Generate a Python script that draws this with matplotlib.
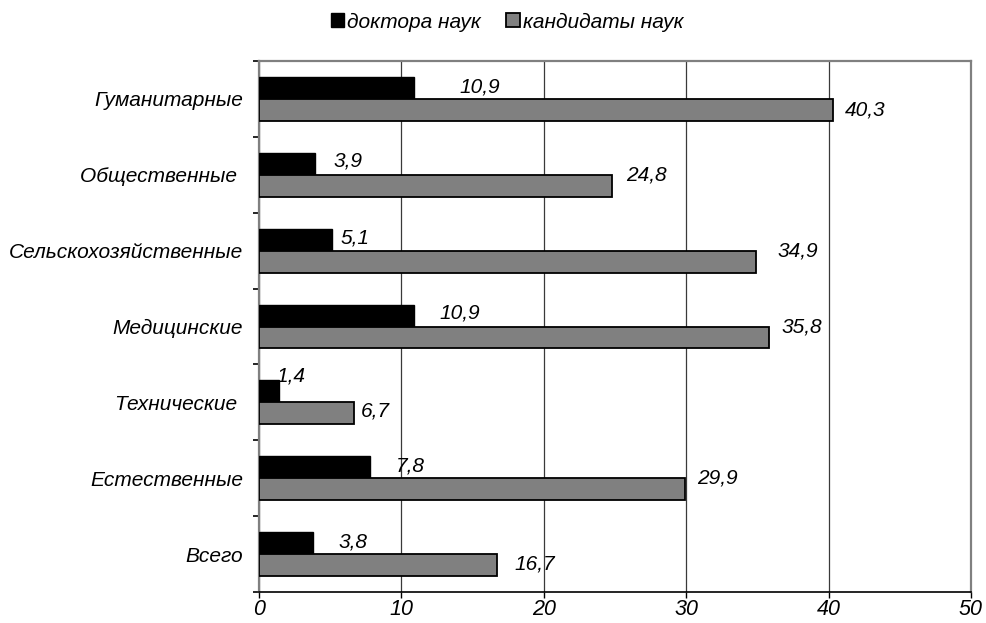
import matplotlib
matplotlib.use("Agg")
import matplotlib.pyplot as plt
import numpy as np

# ---- data ----
categories = ["Гуманитарные", "Общественные ", "Сельскохозяйственные",
              "Медицинские", "Технические ", "Естественные", "Всего"]
doctors = [10.9, 3.9, 5.1, 10.9, 1.4, 7.8, 3.8]
candidates = [40.3, 24.8, 34.9, 35.8, 6.7, 29.9, 16.7]
series_names = ["доктора наук", "кандидаты наук"]
x_ticks = [0, 10, 20, 30, 40, 50]

# ---- label nudges (style, data units / category units) ----
doc_label_dx = [4.6, 2.35, 1.65, 3.2, 0.85, 2.8, 2.8]
doc_label_dy = [0.01, 0.04, 0.02, 0.03, 0.2, 0.01, 0.01]
cand_label_dx = [2.3, 2.4, 2.95, 2.3, 1.45, 2.3, 2.7]
cand_label_dy = [-0.15, 0.0, 0.0, 0.0, -0.12, 0.0, -0.13]

plt.rcParams['font.family'] = ['Liberation Sans', 'DejaVu Sans']
plt.rcParams['font.style'] = 'italic'
FS = 15

fig = plt.figure(figsize=(9.86, 6.23), dpi=100)
ax = fig.add_axes([259/986, 1-592/623, (971-259)/986, (592-61)/623])

n = len(categories)
ypos = np.arange(n)[::-1].astype(float)
h = 0.29

b1 = ax.barh(ypos + h/2, doctors, height=h, color="black", edgecolor="black",
             linewidth=1.0, label=series_names[0], zorder=3)
b2 = ax.barh(ypos - h/2, candidates, height=h, color="#808080", edgecolor="black",
             linewidth=1.3, label=series_names[1], zorder=3)

def fmt(v):
    return f"{v:.1f}".replace(".", ",")

for i in range(n):
    ax.text(doctors[i] + doc_label_dx[i], ypos[i] + h/2 + doc_label_dy[i], fmt(doctors[i]),
            ha="center", va="center", fontsize=FS, style="italic", zorder=4)
    ax.text(candidates[i] + cand_label_dx[i], ypos[i] + cand_label_dy[i], fmt(candidates[i]),
            ha="center", va="center", fontsize=FS, style="italic", zorder=4)

ax.set_xlim(0, 50)
ax.set_ylim(-0.5, n - 0.5)
ax.set_xticks(x_ticks)
ax.set_xticklabels([str(t) for t in x_ticks], fontsize=15.5, style="italic")
ax.set_yticks(ypos)
ax.set_yticklabels(categories, fontsize=FS, style="italic")
ax.set_yticks(np.arange(n + 1) - 0.5, minor=True)

ax.tick_params(axis="y", which="major", length=0, pad=11.5)
ax.tick_params(axis="y", which="minor", length=4.5, width=1.2, color="black", direction="out")
ax.tick_params(axis="x", which="major", length=4.5, width=1.0, color="black",
               direction="out", pad=0.5)

ax.xaxis.grid(True, color="#3a3a3a", linewidth=0.9)
ax.set_axisbelow(True)

for s in ["top", "right", "left"]:
    ax.spines[s].set_color("#808080")
    ax.spines[s].set_linewidth(1.6)
ax.spines["bottom"].set_color("black")
ax.spines["bottom"].set_linewidth(1.2)

leg = fig.legend(handles=[b1, b2], labels=series_names, loc="center",
                 bbox_to_anchor=(507/986, 1-22/623), ncol=2, frameon=False,
                 handlelength=0.65, handleheight=0.65,
                 handletextpad=0.15, columnspacing=1.2, prop={"style": "italic", "size": FS})

fig.savefig("out.png", dpi=100)
